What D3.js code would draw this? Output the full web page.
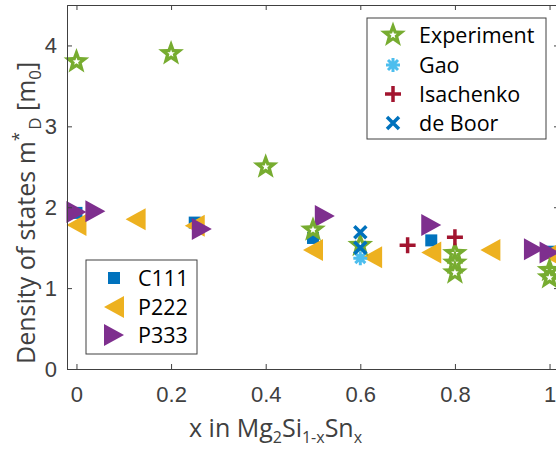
<!DOCTYPE html>
<meta charset="utf-8">
<head>
<style>
  body { margin: 0; background: #fff; }
  svg { display: block; font-family: "Open Sans", sans-serif; }
  .tick text { fill: #404040; font-size: 22px; }
  .lab { fill: #404040; font-size: 25px; }
  .leg text { fill: #000; font-size: 21.5px; }
</style>
<script src="https://cdn.jsdelivr.net/npm/d3@7"></script>
</head>
<body>
<script>
// data
const expX = [0, 0.2, 0.4, 0.5, 0.6, 0.8, 0.8, 0.8, 1.0, 1.0]
const expY = [3.8, 3.9, 2.5, 1.72, 1.53, 1.43, 1.31, 1.19, 1.22, 1.13]
const gaoX = [0.6]
const gaoY = [1.37]
const isaX = [0.7, 0.8]
const isaY = [1.53, 1.63]
const booX = [0.6, 0.6]
const booY = [1.69, 1.5]
const c111X = [0, 0.25, 0.5, 0.75, 1.0]
const c111Y = [1.93, 1.81, 1.62, 1.59, 1.45]
const p222X = [0, 0.125, 0.25, 0.5, 0.625, 0.75, 0.875, 1.0]
const p222Y = [1.78, 1.85, 1.77, 1.47, 1.38, 1.44, 1.47, 1.42]
const p333X = [0, 0.04, 0.265, 0.525, 0.75, 0.967, 1.0]
const p333Y = [1.94, 1.95, 1.73, 1.89, 1.78, 1.48, 1.44]
const xTicks = [0, 0.2, 0.4, 0.6, 0.8, 1]
const yTicks = [0, 1, 2, 3, 4]

const col = { exp: "#77AC30", gao: "#4DBEEE", isa: "#A2142F", boo: "#0072BD",
  c111: "#0072BD", p222: "#EDB120", p333: "#7E2F8E" }

const width = 556, height = 452
const mLeft = 67, mRight = 559, mTop = 5, mBottom = 369

const x = d3.scaleLinear().domain([-0.02, 1.02]).range([mLeft, mRight])
const y = d3.scaleLinear().domain([0, 4.5]).range([mBottom, mTop])

const svg = d3.select("body").append("svg").attr("width", width).attr("height", height)

// marker paths
function star(R, r) {
  let p = ""
  for (let k = 0; k < 10; k++) {
    const a = -Math.PI / 2 + k * Math.PI / 5
    const rr = k % 2 ? r : R
    p += (k ? "L" : "M") + (rr * Math.cos(a)).toFixed(2) + "," + (rr * Math.sin(a)).toFixed(2)
  }
  return p + "Z"
}
const triL = "M-10,0L10,-11L10,11Z"
const triR = "M10,0L-10,-11L-10,11Z"
const square = "M-6,-6L6,-6L6,6L-6,6Z"
const plus = "M-8,0L8,0M0,-8L0,8"
const cross = "M-6,-6L6,6M-6,6L6,-6"
const aster = "M-7,0L7,0M0,-7L0,7M-5,-5L5,5M-5,5L5,-5"

function draw(g, kind) {
  if (kind === "exp") {
    g.append("path").attr("d", star(13.5, 5.6)).attr("fill", col.exp)
    g.append("path").attr("d", star(4, 1.7)).attr("fill", "#fff")
  } else if (kind === "gao") {
    g.append("path").attr("d", aster).attr("stroke", col.gao).attr("stroke-width", 3).attr("fill", "none")
  } else if (kind === "isa") {
    g.append("path").attr("d", plus).attr("stroke", col.isa).attr("stroke-width", 3.5).attr("fill", "none")
  } else if (kind === "boo") {
    g.append("path").attr("d", cross).attr("stroke", col.boo).attr("stroke-width", 3.5).attr("fill", "none")
  } else if (kind === "c111") {
    g.append("path").attr("d", square).attr("fill", col.c111)
  } else if (kind === "p222") {
    g.append("path").attr("d", triL).attr("fill", col.p222)
  } else if (kind === "p333") {
    g.append("path").attr("d", triR).attr("fill", col.p333)
  }
}

function series(xs, ys, kind) {
  svg.append("g").selectAll("g").data(xs).enter().append("g")
    .attr("transform", (d, i) => "translate(" + x(d) + "," + y(ys[i]) + ")")
    .each(function () { draw(d3.select(this), kind) })
}

// plot order as in the figure
series(c111X, c111Y, "c111")
series(p222X, p222Y, "p222")
series(p333X, p333Y, "p333")
series(expX, expY, "exp")
series(gaoX, gaoY, "gao")
series(booX, booY, "boo")
series(isaX, isaY, "isa")

// axes
svg.append("g").attr("transform", "translate(0," + mBottom + ")")
  .call(d3.axisBottom(x).tickValues(xTicks).tickSize(-5).tickPadding(17).tickFormat(d3.format("")))
svg.append("g").attr("transform", "translate(0," + mTop + ")")
  .call(d3.axisTop(x).tickValues(xTicks).tickSize(-5).tickFormat(""))
svg.append("g").attr("transform", "translate(" + mLeft + ",0)")
  .call(d3.axisLeft(y).tickValues(yTicks).tickSize(-5).tickPadding(10).tickFormat(d3.format("d")))
svg.append("g").attr("transform", "translate(" + mRight + ",0)")
  .call(d3.axisRight(y).tickValues(yTicks).tickSize(-5).tickFormat(""))
svg.selectAll(".domain, .tick line").attr("stroke", "#404040")
svg.selectAll(".tick text").attr("font-family", null).attr("font-size", null).attr("fill", null)

// axis labels
const xl = svg.append("text").attr("class", "lab").attr("x", 189).attr("y", 437)
xl.append("tspan").text("x in Mg")
xl.append("tspan").attr("font-size", 16).attr("dy", 6).text("2")
xl.append("tspan").attr("dy", -6).text("Si")
xl.append("tspan").attr("font-size", 16).attr("dy", 6).text("1-x")
xl.append("tspan").attr("dy", -6).text("Sn")
xl.append("tspan").attr("font-size", 16).attr("dy", 6).text("x")

const yl = svg.append("text").attr("class", "lab")
  .attr("transform", "translate(35,364) rotate(-90)")
yl.append("tspan").text("Density of states m")
yl.append("tspan").attr("font-size", 17).attr("dy", -11).text("*")
yl.append("tspan").attr("font-size", 17).attr("dx", 2).attr("dy", 17).text("D")
yl.append("tspan").attr("dy", -6).text(" [m")
yl.append("tspan").attr("font-size", 17).attr("dy", 6).text("0")
yl.append("tspan").attr("dy", -6).text("]")

// legends
function legend(x0, y0, w, h, rows, mx, tx) {
  const g = svg.append("g").attr("class", "leg")
  g.append("rect").attr("x", x0).attr("y", y0).attr("width", w).attr("height", h)
    .attr("fill", "#fff").attr("stroke", "#404040").attr("stroke-width", 1)
  rows.forEach(r => {
    const m = g.append("g").attr("transform", "translate(" + mx + "," + r.y + ")")
    draw(m, r.kind)
    g.append("text").attr("x", tx).attr("y", r.y).attr("dy", "0.35em").text(r.name)
  })
}
legend(367, 18, 179, 121, [
  { kind: "exp", name: "Experiment", y: 35 },
  { kind: "gao", name: "Gao", y: 65 },
  { kind: "isa", name: "Isachenko", y: 94 },
  { kind: "boo", name: "de Boor", y: 123 }], 393, 419)
legend(86, 260, 111, 94, [
  { kind: "c111", name: "C111", y: 278 },
  { kind: "p222", name: "P222", y: 307 },
  { kind: "p333", name: "P333", y: 335 }], 114, 138)
</script>
</body>
